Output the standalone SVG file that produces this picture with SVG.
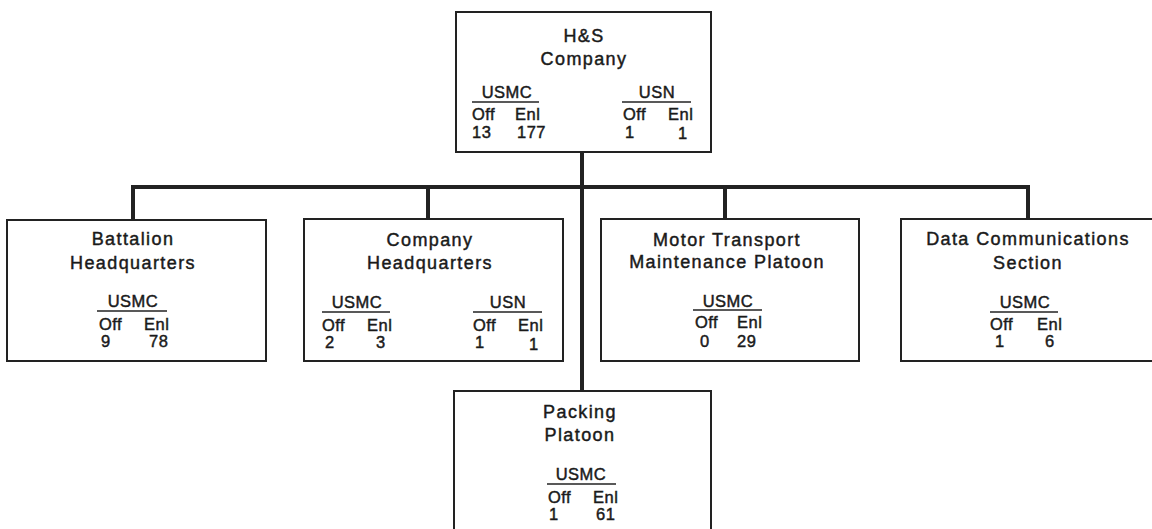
<svg xmlns="http://www.w3.org/2000/svg" width="1152" height="529" viewBox="0 0 1152 529">
<style>
.box{fill:#fff;stroke:#222;stroke-width:2}
.conn{fill:none;stroke:#222;stroke-width:4;stroke-linejoin:miter}
.t{font-family:"Liberation Sans",Arial,sans-serif;font-size:18px;letter-spacing:1.4px;fill:#1a1a1a;stroke:#1a1a1a;stroke-width:0.45px;text-anchor:middle}
.s{font-family:"Liberation Sans",Arial,sans-serif;font-size:16.5px;letter-spacing:0.5px;fill:#1a1a1a;stroke:#1a1a1a;stroke-width:0.45px}
.m{text-anchor:middle}
.ul{stroke:#222;stroke-width:1.5}
</style>
<rect width="1152" height="529" fill="#fff"/>
<g id="connectors">
<path class="conn" d="M582,152 V391"/>
<path class="conn" d="M133,220 V187 H1028 V220"/>
<path class="conn" d="M428,187 V219"/>
<path class="conn" d="M725,187 V219"/>
</g>
<g id="hs-company">
<rect class="box" x="456" y="12" width="255" height="140"/>
<text class="t" x="584" y="42">H&amp;S</text>
<text class="t" x="584" y="65">Company</text>
<text class="s m" x="507" y="98">USMC</text>
<line class="ul" x1="472" y1="102" x2="539" y2="102"/>
<text class="s" x="472" y="120">Off</text>
<text class="s" x="515" y="120">Enl</text>
<text class="s" x="472" y="138">13</text>
<text class="s" x="517" y="138">177</text>
<text class="s m" x="657" y="98">USN</text>
<line class="ul" x1="622" y1="102" x2="691" y2="102"/>
<text class="s" x="623" y="120">Off</text>
<text class="s" x="668" y="120">Enl</text>
<text class="s" x="625" y="138">1</text>
<text class="s" x="678" y="139">1</text>
</g>
<g id="battalion-hq">
<rect class="box" x="7" y="220" width="259" height="141"/>
<text class="t" x="133" y="245">Battalion</text>
<text class="t" x="133" y="269">Headquarters</text>
<text class="s m" x="133" y="307">USMC</text>
<line class="ul" x1="97" y1="311" x2="167" y2="311"/>
<text class="s" x="99" y="330">Off</text>
<text class="s" x="144" y="330">Enl</text>
<text class="s" x="101" y="347">9</text>
<text class="s" x="149" y="347">78</text>
</g>
<g id="company-hq">
<rect class="box" x="304" y="219" width="259" height="142"/>
<text class="t" x="430" y="246">Company</text>
<text class="t" x="430" y="269">Headquarters</text>
<text class="s m" x="357" y="308">USMC</text>
<line class="ul" x1="322" y1="312" x2="390" y2="312"/>
<text class="s" x="322" y="331">Off</text>
<text class="s" x="367" y="331">Enl</text>
<text class="s" x="325" y="348">2</text>
<text class="s" x="376" y="348">3</text>
<text class="s m" x="508" y="308">USN</text>
<line class="ul" x1="473" y1="312" x2="542" y2="312"/>
<text class="s" x="473" y="331">Off</text>
<text class="s" x="518" y="331">Enl</text>
<text class="s" x="475" y="348">1</text>
<text class="s" x="529" y="350">1</text>
</g>
<g id="motor-transport">
<rect class="box" x="601" y="219" width="258" height="142"/>
<text class="t" x="727" y="246">Motor Transport</text>
<text class="t" x="727" y="268">Maintenance Platoon</text>
<text class="s m" x="728" y="307">USMC</text>
<line class="ul" x1="693" y1="310" x2="762" y2="310"/>
<text class="s" x="695" y="328">Off</text>
<text class="s" x="737" y="328">Enl</text>
<text class="s" x="700" y="347">0</text>
<text class="s" x="737" y="347">29</text>
</g>
<g id="data-comm">
<rect class="box" x="901" y="219" width="260" height="142"/>
<text class="t" x="1028" y="245">Data Communications</text>
<text class="t" x="1028" y="269">Section</text>
<text class="s m" x="1025" y="308">USMC</text>
<line class="ul" x1="990" y1="312" x2="1058" y2="312"/>
<text class="s" x="990" y="330">Off</text>
<text class="s" x="1037" y="330">Enl</text>
<text class="s" x="995" y="347">1</text>
<text class="s" x="1045" y="347">6</text>
</g>
<g id="packing-platoon">
<rect class="box" x="454" y="391" width="257" height="160"/>
<text class="t" x="580" y="418">Packing</text>
<text class="t" x="580" y="441">Platoon</text>
<text class="s m" x="581" y="480">USMC</text>
<line class="ul" x1="547" y1="484" x2="616" y2="484"/>
<text class="s" x="548" y="503">Off</text>
<text class="s" x="593" y="503">Enl</text>
<text class="s" x="549" y="520">1</text>
<text class="s" x="596" y="520">61</text>
</g>
</svg>
